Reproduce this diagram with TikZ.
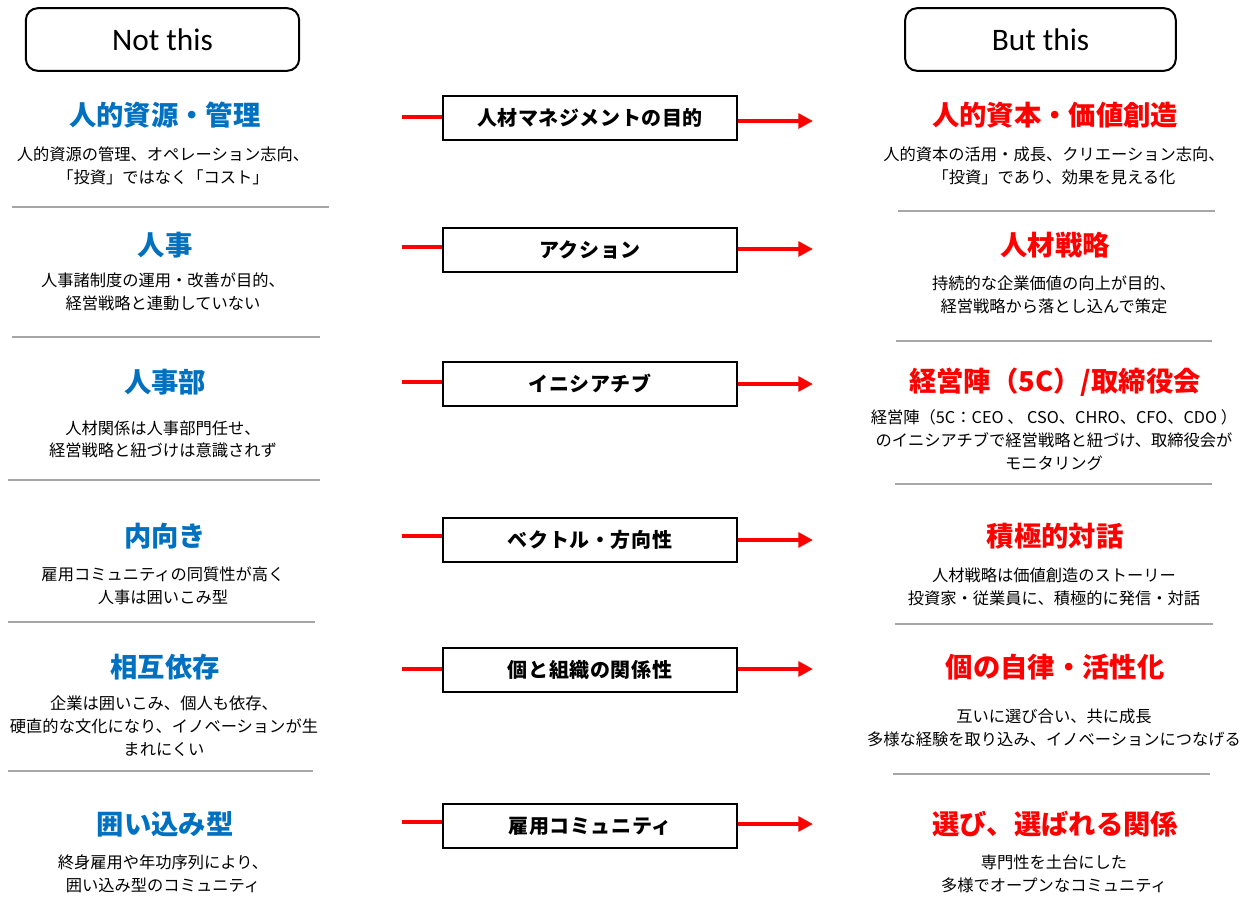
\documentclass[tikz,border=0pt]{standalone}
\usepackage{fontspec}
\setmainfont{Noto Sans CJK JP}
\newfontfamily\latinhead{Carlito}
\usetikzlibrary{arrows.meta}
\definecolor{tblue}{RGB}{0,112,192}
\definecolor{tred}{RGB}{255,0,0}
\definecolor{sepgray}{RGB}{166,166,166}
\tikzset{
  head/.style={draw, rounded corners=9pt, line width=1.5pt, minimum height=47pt, inner sep=0pt,
    font=\latinhead\fontsize{23.5pt}{28pt}\selectfont},
  ltitle/.style={text=tblue, inner sep=0pt, font=\fontsize{20.5pt}{24pt}\selectfont\bfseries},
  rtitle/.style={text=tred, inner sep=0pt, font=\fontsize{20.5pt}{24pt}\selectfont\bfseries},
  desc/.style={align=center, inner sep=0pt, font=\fontsize{12.2pt}{17pt}\selectfont},
  midbox/.style={draw, line width=1.5pt, minimum width=220pt, minimum height=33pt, inner sep=0pt,
    font=\fontsize{15pt}{17pt}\selectfont\bfseries\addfontfeatures{LetterSpace=3}},
  sepline/.style={draw=sepgray, line width=2.2pt},
  redline/.style={draw=tred, line width=3pt},
  redarrow/.style={draw=tred, line width=3pt, -{Triangle[length=11pt,width=11pt]}}
}
\begin{document}
\begin{tikzpicture}[x=0.75pt,y=-0.75pt]
\useasboundingbox (0,0) rectangle (1247,910);
% headers
\node[head, minimum width=205pt] (hl) at (162.5,39.5) {Not this};
\node[head, minimum width=203pt] (hr) at (1040.5,39.5) {But this};

% left column
\node[ltitle] (lt1) at (165,115) {人的資源・管理};
\node[desc] (ld1) at (163,166) {人的資源の管理、オペレーション志向、\\「投資」ではなく「コスト」};
\node[ltitle] (lt2) at (165,245) {人事};
\node[desc] (ld2) at (163,291.5) {人事諸制度の運用・改善が目的、\\経営戦略と連動していない};
\node[ltitle] (lt3) at (165,382) {人事部};
\node[desc] (ld3) at (163,439.5) {人材関係は人事部門任せ、\\経営戦略と紐づけは意識されず};
\node[ltitle] (lt4) at (165,536) {内向き};
\node[desc] (ld4) at (163,586) {雇用コミュニティの同質性が高く\\人事は囲いこみ型};
\node[ltitle] (lt5) at (165,667) {相互依存};
\node[desc] (ld5) at (164,726) {企業は囲いこみ、個人も依存、\\硬直的な文化になり、イノベーションが生\\まれにくい};
\node[ltitle] (lt6) at (165,824) {囲い込み型};
\node[desc] (ld6) at (163,873.5) {終身雇用や年功序列により、\\囲い込み型のコミュニティ};

% right column
\node[rtitle] (rt1) at (1055,115) {人的資本・価値創造};
\node[desc] (rd1) at (1054,166) {人的資本の活用・成長、クリエーション志向、\\「投資」であり、効果を見える化};
\node[rtitle] (rt2) at (1055,245) {人材戦略};
\node[desc] (rd2) at (1054,295) {持続的な企業価値の向上が目的、\\経営戦略から落とし込んで策定};
\node[rtitle] (rt3) at (1055,382) {経営陣（5C）/取締役会};
\node[desc] (rd3) at (1054,440) {経営陣（5C：CEO 、 CSO、CHRO、CFO、CDO ）\\のイニシアチブで経営戦略と紐づけ、取締役会が\\モニタリング};
\node[rtitle] (rt4) at (1055,536) {積極的対話};
\node[desc] (rd4) at (1054,586.5) {人材戦略は価値創造のストーリー\\投資家・従業員に、積極的に発信・対話};
\node[rtitle] (rt5) at (1055,667) {個の自律・活性化};
\node[desc] (rd5) at (1054,728) {互いに選び合い、共に成長\\多様な経験を取り込み、イノベーションにつなげる};
\node[rtitle] (rt6) at (1055,824) {選び、選ばれる関係};
\node[desc] (rd6) at (1054,873.5) {専門性を土台にした\\多様でオープンなコミュニティ};

% separators
\draw[sepline] (12,207) -- (329,207);
\draw[sepline] (12,337) -- (320,337);
\draw[sepline] (8,480) -- (320,480);
\draw[sepline] (8,622) -- (315,622);
\draw[sepline] (8,771) -- (313,771);
\draw[sepline] (898,211) -- (1215,211);
\draw[sepline] (896,341) -- (1212,341);
\draw[sepline] (895,484) -- (1212,484);
\draw[sepline] (895,624) -- (1213,624);
\draw[sepline] (893,774) -- (1210,774);

% middle boxes
\node[midbox] (m1) at (590,118) {人材マネジメントの目的};
\node[midbox] (m2) at (590,249.5) {アクション};
\node[midbox] (m3) at (590,383.5) {イニシアチブ};
\node[midbox] (m4) at (590,539.5) {ベクトル・方向性};
\node[midbox] (m5) at (590,670) {個と組織の関係性};
\node[midbox] (m6) at (590,826) {雇用コミュニティ};

% connector ends
\coordinate (a1) at (402,117);   \coordinate (b1) at (813,121);
\coordinate (a2) at (402,247);   \coordinate (b2) at (813,249);
\coordinate (a3) at (402,382);   \coordinate (b3) at (813,384);
\coordinate (a4) at (402,536);   \coordinate (b4) at (813,540);
\coordinate (a5) at (402,669);   \coordinate (b5) at (813,669);
\coordinate (a6) at (402,822);   \coordinate (b6) at (813,824);
\foreach \i in {1,...,6}{
  \draw[redline] (a\i) -- (m\i.west |- a\i);
  \draw[redarrow] (m\i.east |- b\i) -- (b\i);
}
\end{tikzpicture}
\end{document}
